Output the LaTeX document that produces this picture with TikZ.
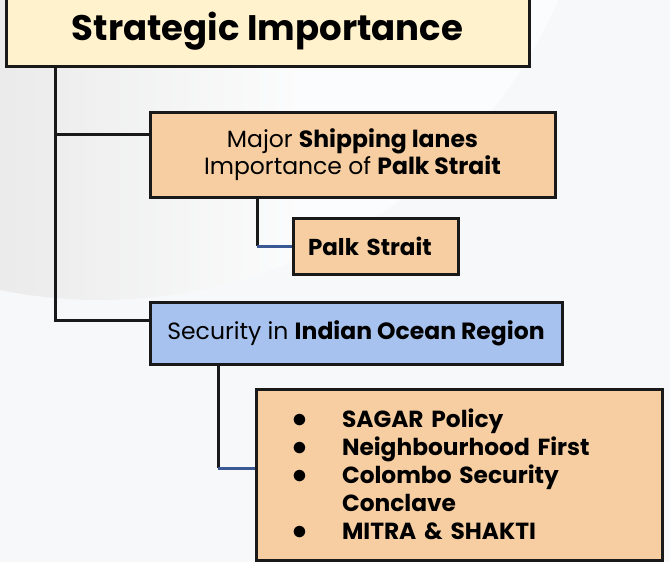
\documentclass[tikz,border=0pt]{standalone}
\usepackage{fontspec}
\setmainfont{Poppins}
\definecolor{bgcol}{HTML}{F7F8FA}
\definecolor{titlefill}{HTML}{FFF2CC}
\definecolor{orangefill}{HTML}{F6CEA1}
\definecolor{bluefill}{HTML}{A8C2EF}
\definecolor{bluelink}{HTML}{3A5894}
\newcommand{\bigbul}{\smash{\scalebox{1.2}{$\bullet$}}}
\begin{document}
\begin{tikzpicture}[x=1pt,y=-1pt,
  box/.style={draw=black!90,line width=3pt,anchor=center,inner sep=0pt,align=center},
  conn/.style={draw=black!90,line width=3pt},
  bconn/.style={draw=bluelink,line width=3pt}]
\useasboundingbox (0,0) rectangle (670,562);
\fill[bgcol] (0,0) rectangle (670,562);
\begin{scope}
  \clip (0,0) rectangle (670,562);
  \clip (100,-200) circle[radius=500];
  \fill[white!55!bgcol] (0,0) rectangle (670,562);
  \shade[left color=black!8!white, right color=white!55!bgcol] (0,0) rectangle (300,562);
\end{scope}
% nodes
\node[box,fill=titlefill,minimum width=523pt,minimum height=70pt,font=\fontsize{35.5}{40}\selectfont\bfseries] (title) at (267.5,31) {Strategic Importance};
\node[box,fill=orangefill,minimum width=405pt,minimum height=85pt,font=\fontsize{23.5}{27}\selectfont] (ship) at (352.5,154.5) {Major \textbf{Shipping lanes}\\Importance of \textbf{Palk Strait}};
\node[box,fill=orangefill,minimum width=165pt,minimum height=56pt,text width=135pt,inner xsep=15pt,align=left,font=\fontsize{23}{26}\selectfont\bfseries] (palk) at (375.5,246) {Palk Strait};
\node[box,fill=bluefill,minimum width=412pt,minimum height=62pt,font=\fontsize{23.5}{26}\selectfont] (ior) at (356,333) {Security in \textbf{Indian Ocean Region}};
\node[box,fill=orangefill,minimum width=406pt,minimum height=171pt,text width=406pt,align=left,font=\fontsize{23.3}{28}\selectfont\bfseries] (list) at (459,474.5) {%
\hspace*{36pt}\makebox[50pt][l]{\bigbul}SAGAR Policy\\
\hspace*{36pt}\makebox[50pt][l]{\bigbul}Neighbourhood First\\
\hspace*{36pt}\makebox[50pt][l]{\bigbul}Colombo Security\\
\hspace*{36pt}\makebox[50pt][l]{}Conclave\\
\hspace*{36pt}\makebox[50pt][l]{\bigbul}MITRA \& SHAKTI};
% coordinates
\coordinate (trunk) at (55,0);
\coordinate (j1) at (0,134);
\coordinate (j2) at (0,320);
\coordinate (c1) at (257,0);
\coordinate (c2) at (218,0);
\coordinate (j3) at (0,468);
% connectors
\draw[conn] (title.south -| trunk) |- (ior.west |- j2);
\draw[conn] (trunk |- j1) -- (ship.west |- j1);
\draw[conn] (ship.south -| c1) -- (c1 |- palk.west);
\draw[bconn] (c1 |- palk.west) -- (palk.west);
\draw[conn] (ior.south -| c2) -- (c2 |- j3);
\draw[bconn] (c2 |- j3) -- (list.west |- j3);
\end{tikzpicture}
\end{document}
